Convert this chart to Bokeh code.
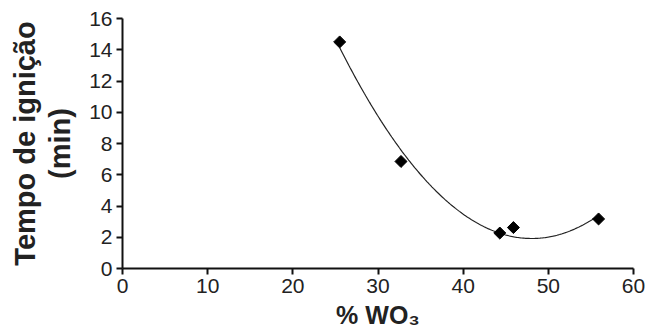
import numpy as np
from bokeh.plotting import figure
from bokeh.models import Range1d, FixedTicker
from bokeh.embed import file_html
from bokeh.resources import INLINE

# data
wo3 = [25.5, 32.7, 44.3, 45.9, 55.9]
tempo = [14.5, 6.85, 2.27, 2.62, 3.17]
x_ticks = [0, 10, 20, 30, 40, 50, 60]
y_ticks = [0, 2, 4, 6, 8, 10, 12, 14, 16]

# polynomial (order 2) trendline fitted to the data
coef = np.polyfit(wo3, tempo, 2)
xf = np.linspace(min(wo3), max(wo3), 200)
yf = np.polyval(coef, xf)

p = figure(width=652, height=336, output_backend="svg", toolbar_location=None,
           x_range=Range1d(0, 60), y_range=Range1d(0, 16),
           min_border_left=122, min_border_right=19, min_border_top=18, min_border_bottom=68)
p.outline_line_color = None
p.grid.visible = False
p.background_fill_color = "white"

p.line(xf, yf, line_color="#222222", line_width=1.2)
p.scatter(wo3, tempo, marker="square", angle=np.pi / 4, size=8.5,
          fill_color="black", line_color="black")

for ax in (p.xaxis, p.yaxis):
    ax.axis_line_width = 2
    ax.axis_line_color = "#111111"
    ax.major_tick_line_width = 2
    ax.major_tick_line_color = "#111111"
    ax.major_tick_in = 0
    ax.major_tick_out = 6
    ax.minor_tick_line_color = None
    ax.major_label_text_font = "Liberation Sans"
    ax.major_label_text_font_size = "21px"
    ax.major_label_text_color = "#222222"
    ax.axis_label_text_font = "Liberation Sans"
    ax.axis_label_text_font_style = "bold"
    ax.axis_label_text_color = "#222222"

p.xaxis.ticker = FixedTicker(ticks=x_ticks)
p.yaxis.ticker = FixedTicker(ticks=y_ticks)
p.xaxis.major_label_standoff = 4
p.yaxis.major_label_standoff = 4
p.xaxis.axis_label = "% WO₃"
p.xaxis.axis_label_text_font_size = "25px"
p.xaxis.axis_label_standoff = 5
p.yaxis.axis_label = "Tempo de ignição\n(min)"
p.yaxis.axis_label_text_font_size = "29px"
p.yaxis.axis_label_text_line_height = 1.1
p.yaxis.axis_label_standoff = 10

open("out.html", "w").write(file_html(p, INLINE))
